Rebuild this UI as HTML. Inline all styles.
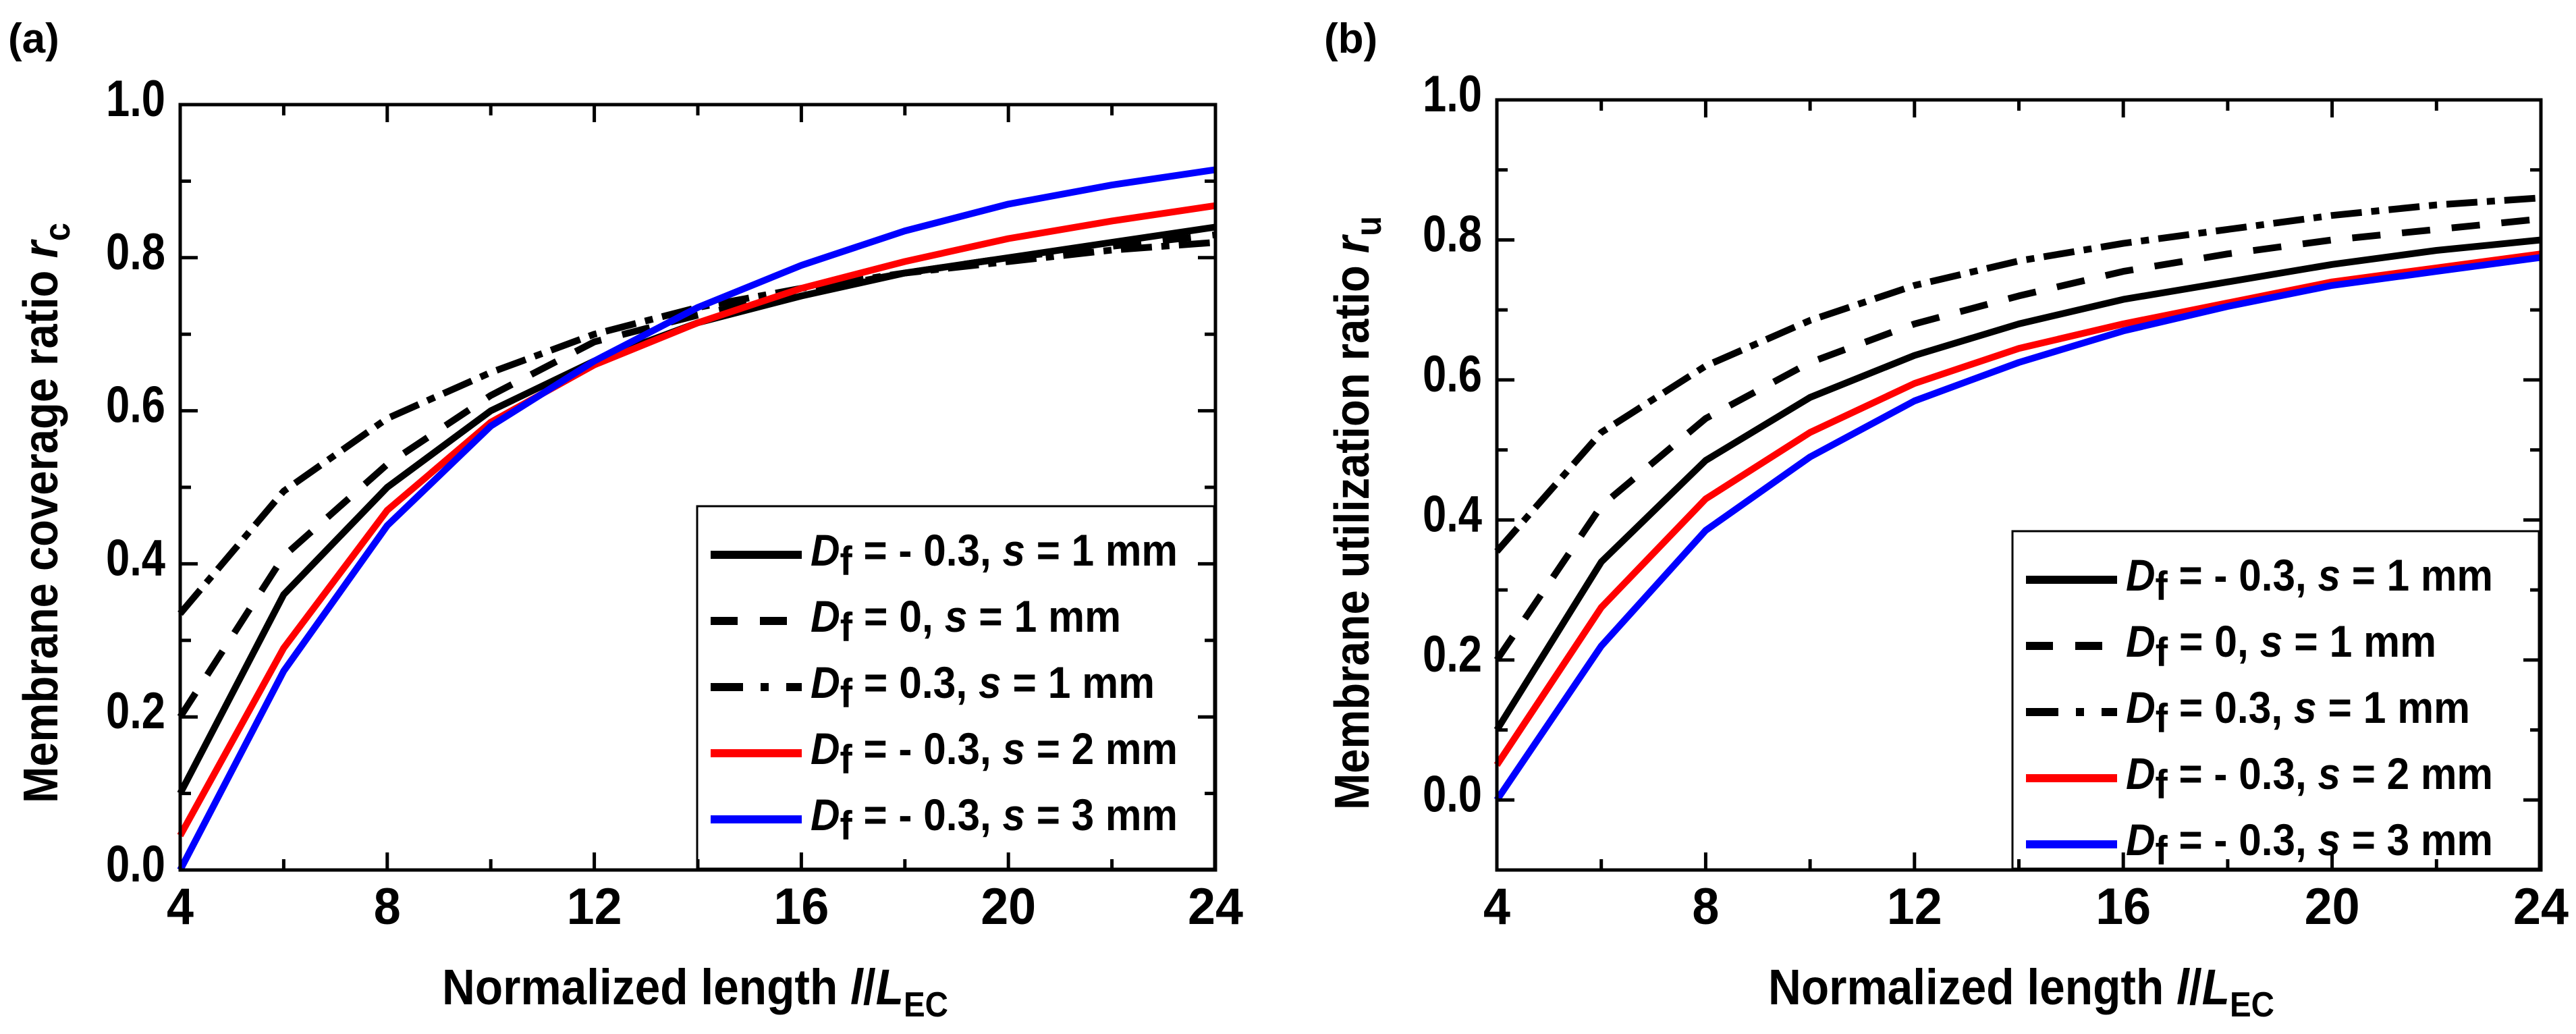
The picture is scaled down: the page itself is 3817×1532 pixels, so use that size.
<!DOCTYPE html>
<html><head><meta charset="utf-8"><style>
html,body{margin:0;padding:0;background:#fff;}
svg{display:block;font-family:"Liberation Sans",Arial,sans-serif;font-weight:bold;}
</style></head><body>
<svg id="fig" width="3817" height="1532" viewBox="0 0 3817 1532" xmlns="http://www.w3.org/2000/svg">
<rect width="3817" height="1532" fill="#fff"/>
</svg>
<script>
// ---- data ----
const xCats = [4, 6, 8, 10, 12, 14, 16, 18, 20, 22, 24];
const xTicks = [4, 8, 12, 16, 20, 24];
const yTicksA = [0.0, 0.2, 0.4, 0.6, 0.8, 1.0];
const yTicksB = [0.0, 0.2, 0.4, 0.6, 0.8, 1.0];
// panel (a) coverage ratio
const a_solid  = [0.10, 0.36, 0.50, 0.60, 0.665, 0.715, 0.75, 0.78, 0.80, 0.82, 0.84];
const a_dash   = [0.20, 0.41, 0.53, 0.62, 0.69, 0.725, 0.755, 0.78, 0.80, 0.815, 0.83];
const a_dashdot= [0.335, 0.495, 0.59, 0.65, 0.70, 0.735, 0.76, 0.78, 0.795, 0.81, 0.82];
const a_red    = [0.045, 0.29, 0.47, 0.585, 0.66, 0.715, 0.76, 0.795, 0.825, 0.848, 0.868];
const a_blue   = [0.0, 0.26, 0.45, 0.58, 0.665, 0.735, 0.79, 0.835, 0.87, 0.895, 0.915];
// panel (b) utilization ratio
const b_solid  = [0.10, 0.34, 0.485, 0.575, 0.635, 0.68, 0.715, 0.74, 0.765, 0.785, 0.80];
const b_dash   = [0.20, 0.42, 0.545, 0.625, 0.68, 0.72, 0.755, 0.78, 0.80, 0.815, 0.83];
const b_dashdot= [0.355, 0.525, 0.62, 0.685, 0.735, 0.77, 0.795, 0.815, 0.835, 0.85, 0.86];
const b_red    = [0.05, 0.275, 0.43, 0.525, 0.595, 0.645, 0.68, 0.71, 0.74, 0.76, 0.78];
const b_blue   = [0.0, 0.22, 0.385, 0.49, 0.57, 0.625, 0.67, 0.705, 0.735, 0.755, 0.775];
const legendVals = ["- 0.3", "0", "0.3", "- 0.3", "- 0.3"];
const legendS = ["1", "1", "1", "2", "3"];

const NS = "http://www.w3.org/2000/svg";
const svg = document.getElementById('fig');
function el(tag, attrs, parent) {
  const e = document.createElementNS(NS, tag);
  for (const k in attrs) e.setAttribute(k, attrs[k]);
  (parent || svg).appendChild(e);
  return e;
}
const styles = [
  {stroke:"#000", dash:null},
  {stroke:"#000", dash:"42 32"},
  {stroke:"#000", dash:"46 14 12 14"},
  {stroke:"#ff0000", dash:null},
  {stroke:"#0000ff", dash:null}
];
const seriesNames = ["df-neg03-s1","df-0-s1","df-03-s1","df-neg03-s2","df-neg03-s3"];

function panel(cfg) {
  const g = el('g', {});
  
  
  const X = v => cfg.x0 + (v - 4) / 20 * (cfg.x1 - cfg.x0);
  const Y = v => cfg.yBase - (v - cfg.ymin) / (cfg.ymax - cfg.ymin) * (cfg.yBase - cfg.yTop);
  cfg.series.forEach((s, i) => {
    const pts = xCats.map((x, j) => X(x).toFixed(1) + ',' + Y(s[j]).toFixed(1)).join(' ');
    const p = el('polyline', {points: pts, fill: 'none', stroke: styles[i].stroke, 'stroke-width': 10, 'stroke-linejoin': 'round'}, g);
    if (styles[i].dash) p.setAttribute('stroke-dasharray', styles[i].dash);
    
    
  });
  const lg = el('g', {}, g);
  
  
  el('rect', {x: cfg.lx, y: cfg.ly, width: cfg.lw, height: cfg.lh, fill: '#fff', stroke: '#000', 'stroke-width': 3}, lg);
  for (let i = 0; i < 5; i++) {
    const ry = cfg.ly + 72 + i * 98;
    const ent = el('g', {}, lg);
    
    
    const l = el('line', {x1: cfg.lx + 20, x2: cfg.lx + 155, y1: ry, y2: ry, stroke: styles[i].stroke, 'stroke-width': 12}, ent);
    if (styles[i].dash) l.setAttribute('stroke-dasharray', i === 1 ? "40 33" : "48 26 12 26");
    const t = el('text', {x: cfg.lx + 168, y: ry + 16, 'font-size': 66}, ent);
    t.innerHTML = '<tspan font-style="italic">D</tspan><tspan dy="14" font-size="60">f</tspan><tspan dy="-14">  = ' + legendVals[i] + ', </tspan><tspan font-style="italic">s</tspan><tspan> = ' + legendS[i] + ' mm</tspan>';
    t.setAttribute('textLength', i === 1 ? 460 : (i === 2 ? 510 : 544));
    t.setAttribute('lengthAdjust', 'spacingAndGlyphs');
  }
  const fr = el('rect', {x: cfg.x0, y: cfg.yTop, width: cfg.x1 - cfg.x0, height: cfg.yBase - cfg.yTop, fill: 'none', stroke: '#000', 'stroke-width': 5}, g);
  
  
  for (let v = 4; v <= 24; v += 2) {
    const len = (v % 4 === 0) ? 26 : 16;
    el('line', {x1: X(v), x2: X(v), y1: cfg.yBase, y2: cfg.yBase - len, stroke: '#000', 'stroke-width': 5}, g);
    el('line', {x1: X(v), x2: X(v), y1: cfg.yTop, y2: cfg.yTop + len, stroke: '#000', 'stroke-width': 5}, g);
  }
  xTicks.forEach(v => {
    const t = el('text', {x: X(v), y: cfg.yBase + 80, 'font-size': 76, 'text-anchor': 'middle', textLength: v < 10 ? 40 : 82, lengthAdjust: 'spacingAndGlyphs'}, g);
    t.textContent = v;
    
    
  });
  for (let k = Math.round(cfg.ymin * 10); k <= 10; k++) {
    const v = k / 10;
    const len = (k % 2 === 0) ? 26 : 16;
    el('line', {x1: cfg.x0, x2: cfg.x0 + len, y1: Y(v), y2: Y(v), stroke: '#000', 'stroke-width': 5}, g);
    el('line', {x1: cfg.x1, x2: cfg.x1 - len, y1: Y(v), y2: Y(v), stroke: '#000', 'stroke-width': 5}, g);
  }
  cfg.yTicks.forEach(v => {
    const t = el('text', {x: cfg.x0 - 22, y: Y(v) + 17, 'font-size': 76, 'text-anchor': 'end', textLength: 88, lengthAdjust: 'spacingAndGlyphs'}, g);
    t.textContent = v.toFixed(1);
    
    
  });
  const xt = el('text', {x: cfg.xtX, y: 1488, 'font-size': 74, 'text-anchor': 'middle', textLength: 750, lengthAdjust: 'spacingAndGlyphs'}, g);
  xt.innerHTML = 'Normalized length <tspan font-style="italic">l</tspan>/<tspan font-style="italic">L</tspan><tspan dy="18" font-size="52">EC</tspan>';
  
  
  const yt = el('text', {x: 0, y: 0, 'font-size': 72, 'text-anchor': 'middle', transform: 'translate(' + cfg.ytX + ',' + cfg.ytY + ') rotate(-90)', textLength: cfg.ytLen, lengthAdjust: 'spacingAndGlyphs'}, g);
  yt.innerHTML = cfg.ytitle + ' <tspan font-style="italic">r</tspan><tspan dy="18" font-size="54">' + cfg.ysub + '</tspan>';
  
  
  const pl = el('text', {x: cfg.plx, y: 78, 'font-size': 62}, g);
  pl.textContent = cfg.label;
  
  
}

panel({name: 'panel-a', x0: 267, x1: 1801, yTop: 155, yBase: 1289, ymin: 0, ymax: 1,
  series: [a_solid, a_dash, a_dashdot, a_red, a_blue], yTicks: yTicksA,
  lx: 1033, ly: 750, lw: 766, lh: 537,
  xtX: 1030, ytX: 85, ytY: 760, ytLen: 860, ytitle: 'Membrane coverage ratio', ysub: 'c', label: '(a)', plx: 12});
panel({name: 'panel-b', x0: 2218, x1: 3765, yTop: 148, yBase: 1289, ymin: -0.1, ymax: 1,
  series: [b_solid, b_dash, b_dashdot, b_red, b_blue], yTicks: yTicksB,
  lx: 2982, ly: 787, lw: 780, lh: 500,
  xtX: 2995, ytX: 2028, ytY: 760, ytLen: 880, ytitle: 'Membrane utilization ratio', ysub: 'u', label: '(b)', plx: 1962});
</script>
</body></html>
